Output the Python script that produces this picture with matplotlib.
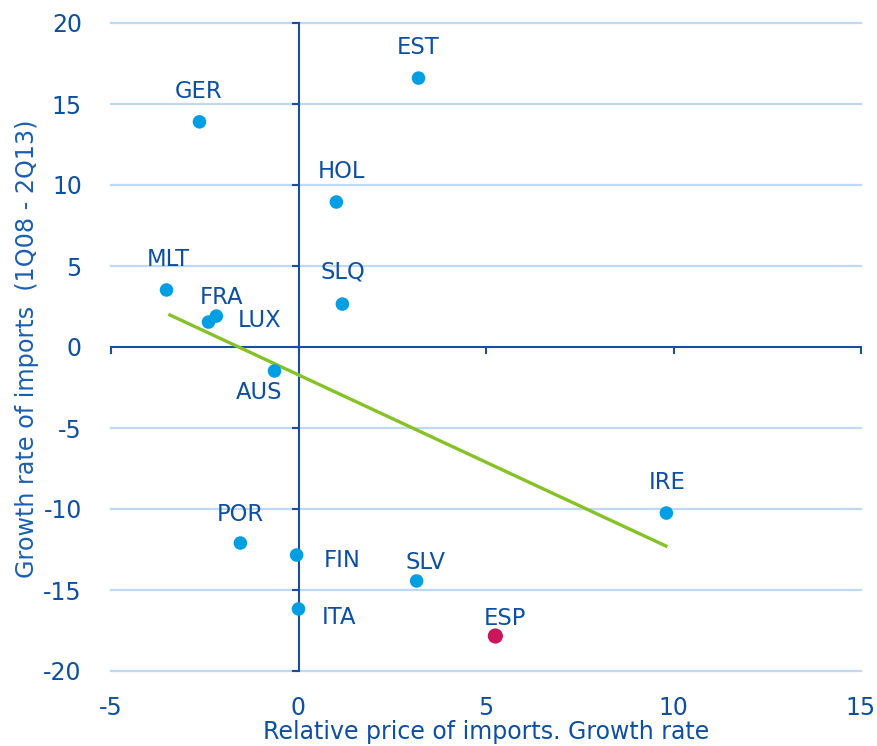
import matplotlib
matplotlib.use("Agg")
import matplotlib.pyplot as plt

plt.rcParams['font.family'] = ['DejaVu Sans']

# Data
countries = ["EST", "GER", "HOL", "MLT", "FRA", "LUX", "SLQ", "AUS",
             "POR", "FIN", "ITA", "SLV", "IRE", "ESP"]
x_vals = [3.2, -2.64, 1.01, -3.52, -2.19, -2.4, 1.17, -0.64,
          -1.55, -0.05, 0.0, 3.15, 9.81, 5.25]
y_vals = [16.6, 13.9, 8.95, 3.52, 1.91, 1.54, 2.65, -1.48,
          -12.1, -12.84, -16.17, -14.44, -10.25, -17.84]
# label offsets (pixels) relative to point
label_dx = [0, -1, 5, 2, 5, 51, 1, -15, 0, 46, 40, 9, 1, 10]
label_dy = [31, 30, 31, 30, 19, 2, 32, -22, 29, -5, -9, 18, 31, 18]

trend_x = [-3.47, 9.84]
trend_y = [2.02, -12.33]

x_ticks = [-5, 0, 5, 10, 15]
y_ticks = [-20, -15, -10, -5, 0, 5, 10, 15, 20]

TEXT = "#0d4fa3"
AXIS = "#1b4f9e"
GRID = "#bfd8f3"
DOT = "#009fe3"
ESP_C = "#c8175a"
GREEN = "#84c225"

fig = plt.figure(figsize=(8.78, 7.46), dpi=100)
ax = fig.add_axes([111/878, 1-671/746, 750/878, 648/746])
ax.set_xlim(-5, 15)
ax.set_ylim(-20, 20)

# grid lines
for yv in y_ticks:
    if yv != 0:
        ax.axhline(yv, color=GRID, lw=1.6, zorder=0, clip_on=False)

# spines at data zero
ax.spines['left'].set_position(('data', 0))
ax.spines['bottom'].set_position(('data', 0))
ax.spines['right'].set_visible(False)
ax.spines['top'].set_visible(False)
for s in ('left', 'bottom'):
    ax.spines[s].set_color(AXIS)
    ax.spines[s].set_linewidth(1.5)
    ax.spines[s].set_zorder(1)
ax.set_xticks(x_ticks)
ax.set_yticks(y_ticks)
ax.tick_params(axis='both', direction='out', length=5, width=1.5, color=AXIS,
               labelleft=False, labelbottom=False)

# tick labels at axes edges via secondary axes
secy = ax.secondary_yaxis(0)
secy.set_yticks(y_ticks)
secy.set_yticklabels([str(v) for v in y_ticks])
secy.spines['left'].set_visible(False)
secy.tick_params(length=0, pad=21, labelsize=17, labelcolor=TEXT)

secx = ax.secondary_xaxis(0)
secx.set_xticks(x_ticks)
secx.set_xticklabels([str(v) for v in x_ticks])
secx.spines['bottom'].set_visible(False)
secx.tick_params(length=0, pad=18, labelsize=17, labelcolor=TEXT)

# trend line
ax.plot(trend_x, trend_y, color=GREEN, lw=2.4, zorder=2, solid_capstyle='butt')

# points
colors = [ESP_C if c == "ESP" else DOT for c in countries]
sizes = [120 if c == "ESP" else 95 for c in countries]
ax.scatter(x_vals, y_vals, s=sizes, c=colors, zorder=3, linewidths=0)

for c, xv, yv, dx, dy in zip(countries, x_vals, y_vals, label_dx, label_dy):
    ax.annotate(c, (xv, yv), xytext=(dx*0.72, dy*0.72), textcoords='offset points',
                ha='center', va='center', fontsize=16.3, color=TEXT, zorder=4)

fig.text(486/878, 1-732/746, "Relative price of imports. Growth rate",
         ha='center', va='center', fontsize=17, color=TEXT)
fig.text(27/878, 1-349/746, "Growth rate of imports  (1Q08 - 2Q13)",
         ha='center', va='center', rotation=90, fontsize=17.2, color="#1a5eb3")

fig.savefig("out.png", dpi=100)
